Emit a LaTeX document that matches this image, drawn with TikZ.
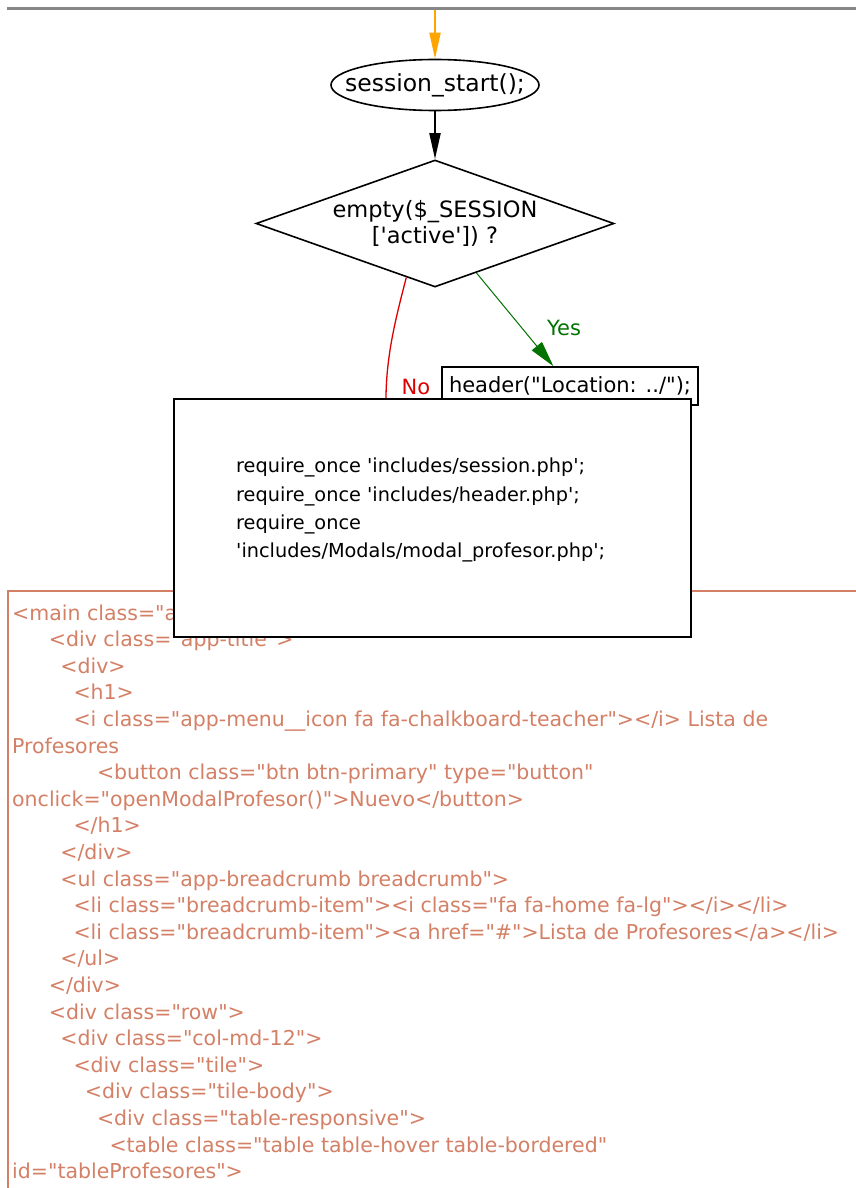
\documentclass[tikz,border=0pt]{standalone}
\usepackage{fontspec}
\setmainfont{DejaVu Sans}
\newfontfamily\fcfont{DejaVu Sans}
\usetikzlibrary{arrows.meta, shapes.geometric}
\definecolor{fcorange}{RGB}{255,165,0}
\definecolor{fcred}{RGB}{220,0,0}
\definecolor{fcgreen}{RGB}{0,115,0}
\definecolor{fcsalmon}{RGB}{212,128,102}
\definecolor{fcgray}{RGB}{135,135,135}
\newcommand{\sq}{\textquotesingle}

\begin{document}
\begin{tikzpicture}[x=1pt, y=-1pt,
  fcnode/.style={draw, line width=1.6pt, inner sep=0pt, fill=white},
  fcarrow/.style={line width=2pt, -{Triangle[length=26pt, width=11pt]}},
  fclabel/.style={inner sep=0pt, font=\fcfont\fontsize{21}{25}\selectfont},
  cline/.style={anchor=base west, inner sep=0pt, text=fcsalmon,
                font=\fcfont\fontsize{20.5}{26.6}\selectfont}]
  \useasboundingbox (0,0) rectangle (856,1188);
  \clip (0,0) rectangle (856,1188);
  \fill[white] (0,0) rectangle (856,1188);

  % top rule
  \draw[fcgray, line width=3.5pt] (7,8.5) -- (856,8.5);

  % code block (behind the flow chart)
  \draw[fcsalmon, line width=2pt] (8,591) rectangle (870,1200);
  \node[cline] (c0) at (12,620) {<main class="app-content">};
  \node[cline] (c1) at (48.7,646.6) {<div class="app-title">};
  \node[cline] (c2) at (60.2,673.2) {<div>};
  \node[cline] (c3) at (73.3,699.8) {<h1>};
  \node[cline] (c4) at (73.3,726.4) {<i class="app-menu\_\_icon fa fa-chalkboard-teacher"></i> Lista de};
  \node[cline] (c5) at (12,753) {Profesores};
  \node[cline] (c6) at (96.8,779.6) {<button class="btn btn-primary" type="button"};
  \node[cline] (c7) at (12,806.2) {onclick="openModalProfesor()">Nuevo</button>};
  \node[cline] (c8) at (73.3,832.8) {</h1>};
  \node[cline] (c9) at (60.2,859.4) {</div>};
  \node[cline] (c10) at (60.2,886) {<ul class="app-breadcrumb breadcrumb">};
  \node[cline] (c11) at (73.3,912.6) {<li class="breadcrumb-item"><i class="fa fa-home fa-lg"></i></li>};
  \node[cline] (c12) at (73.3,939.2) {<li class="breadcrumb-item"><a href="\#">Lista de Profesores</a></li>};
  \node[cline] (c13) at (60.2,965.8) {</ul>};
  \node[cline] (c14) at (48.7,992.4) {</div>};
  \node[cline] (c15) at (48.7,1019) {<div class="row">};
  \node[cline] (c16) at (60.2,1045.6) {<div class="col-md-12">};
  \node[cline] (c17) at (73.3,1072.2) {<div class="tile">};
  \node[cline] (c18) at (84.7,1098.8) {<div class="tile-body">};
  \node[cline] (c19) at (96.8,1125.4) {<div class="table-responsive">};
  \node[cline] (c20) at (109.3,1152) {<table class="table table-hover table-bordered"};
  \node[cline] (c21) at (12,1178.6) {id="tableProfesores">};

  % flow chart
  \node[fcnode, ellipse, minimum width=208pt, minimum height=51pt,
        font=\fcfont\fontsize{23.5}{26}\selectfont] (start) at (435,85)
        {\makebox[0pt]{session\_start();}};
  \node[fcnode, diamond, aspect=2.82, minimum width=358pt, minimum height=127pt,
        align=center, font=\fcfont\fontsize{22.5}{25.3}\selectfont] (dia) at (435,223.5)
        {empty(\$\_SESSION\\{}[\sq{}active\sq{}]) ?};
  \node[fcnode, minimum width=256pt, minimum height=38pt,
        font=\fcfont\fontsize{21}{25}\selectfont] (hdr) at (570,386) {header("Location: ../");};

  \coordinate (entry) at (435,10);
  \coordinate (noend) at (386,399);

  \draw[fcarrow, fcorange] (entry) -- (start);
  \draw[fcarrow, black] (start) -- (dia);
  \draw[fcgreen, line width=1pt, -{Triangle[length=26pt, width=13pt]}] (dia.310) -- (hdr.130);
  \draw[fcred, line width=1.3pt] (dia.242) .. controls +(-9,35) and +(0,-45) .. (noend);

  \node[fclabel, text=fcgreen] (yeslbl) at (564,328) {Yes};
  \node[fclabel, text=fcred] (nolbl) at (416,387) {No};

  % includes box on top
  \node[fcnode, minimum width=517pt, minimum height=238pt] (inc) at (432.5,518) {};
  \node[align=left, anchor=west, inner sep=0pt,
        font=\fcfont\fontsize{19.3}{28.1}\selectfont] (inctxt) at (236,510)
        {require\_once \sq{}includes/session.php\sq;\\
         require\_once \sq{}includes/header.php\sq;\\
         require\_once\\
         \sq{}includes/Modals/modal\_profesor.php\sq;};
\end{tikzpicture}
\end{document}
